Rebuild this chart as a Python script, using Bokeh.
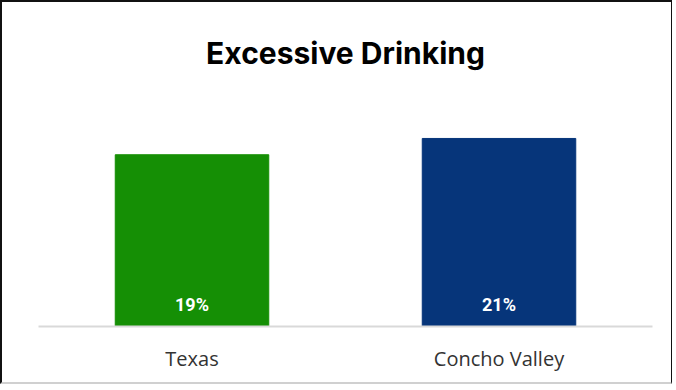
from bokeh.plotting import figure
from bokeh.models import ColumnDataSource, Range1d
from bokeh.core.properties import value
from bokeh.embed import file_html
from bokeh.resources import INLINE

categories = ["Texas", "Concho Valley"]
rates = [19.0, 20.8]
colors = ["#158f05", "#06357a"]
labels = ["19%", "21%"]

src = ColumnDataSource(dict(cat=categories, val=rates, color=colors, lab=labels,
                            ly=[2.45] * len(categories)))

p = figure(x_range=categories, y_range=Range1d(0, 25), width=672, height=384,
           output_backend="svg", toolbar_location=None,
           min_border_left=36, min_border_right=22, min_border_top=96, min_border_bottom=60)
p.styles = {"border-left": "2px solid #111", "border-top": "2px solid #111",
            "border-bottom": "2px solid #d0d0d0", "border-right": "1px solid #111"}

p.vbar(x="cat", top="val", width=0.5, color="color", source=src)
p.text(x="cat", y="ly", text="lab", source=src, text_color="white",
       text_font=value("Roboto"), text_font_style="bold", text_font_size="18px",
       text_align="center", text_baseline="middle")

p.title.text = "Excessive Drinking"
p.title.align = "center"
p.title.text_font = "Inter"
p.title.text_font_style = "bold"
p.title.text_font_size = "30px"
p.title.text_color = "#000000"
p.title.offset = 0
p.title.standoff = 60

p.yaxis.visible = False
p.xgrid.visible = False
p.ygrid.visible = False
p.outline_line_color = None
p.xaxis.axis_line_color = "#d9d9d9"
p.xaxis.axis_line_width = 2
p.xaxis.major_tick_line_color = None
p.xaxis.minor_tick_line_color = None
p.xaxis.major_label_text_font = "Open Sans"
p.xaxis.major_label_text_font_size = "20px"
p.xaxis.major_label_text_color = "#333333"
p.xaxis.major_label_standoff = 12
p.x_range.range_padding = 0.0

open("out.html", "w").write(file_html(p, INLINE))
